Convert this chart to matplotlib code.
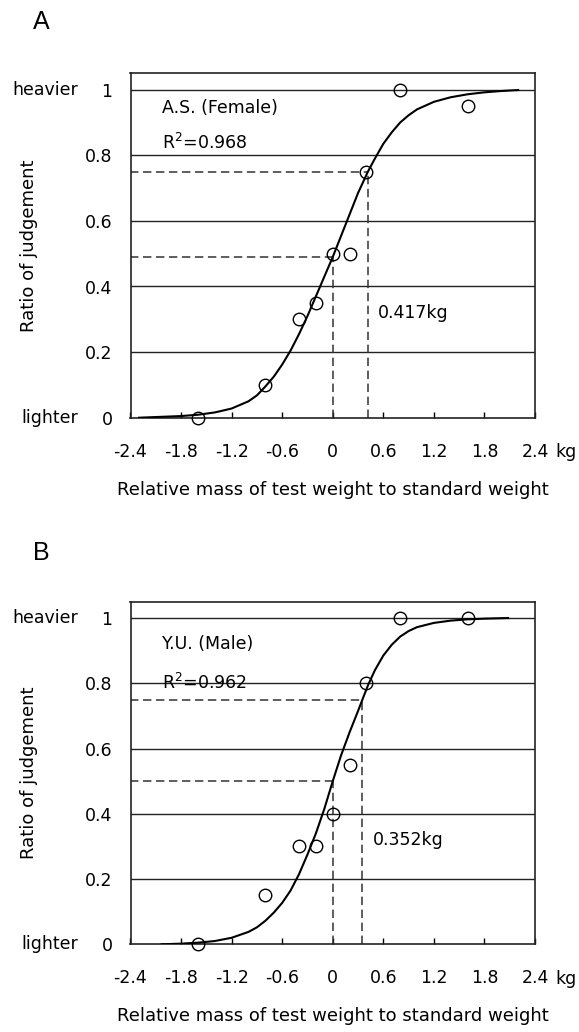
import matplotlib
matplotlib.use("Agg")
import matplotlib.pyplot as plt

# ---------------------------------------------------------------------------
# Data
# ---------------------------------------------------------------------------

# Panel A: A.S. (Female)
A_POINTS_X = [-1.6, -0.8, -0.4, -0.2, 0.0, 0.2, 0.4, 0.8, 1.6]
A_POINTS_Y = [0.0, 0.1, 0.3, 0.35, 0.5, 0.5, 0.75, 1.0, 0.95]
A_CURVE_X = [-2.3, -2.0, -1.8, -1.6, -1.4, -1.2, -1.0, -0.9, -0.8, -0.7,
             -0.6, -0.5, -0.4, -0.3, -0.2, -0.1, 0.0, 0.1, 0.2, 0.3, 0.417,
             0.5, 0.6, 0.7, 0.8, 0.9, 1.0, 1.2, 1.4, 1.6, 1.8, 2.0, 2.2]
A_CURVE_Y = [0.0, 0.003, 0.005, 0.009, 0.016, 0.028, 0.05, 0.068, 0.095,
             0.125, 0.162, 0.205, 0.255, 0.31, 0.37, 0.43, 0.49, 0.555, 0.62,
             0.685, 0.75, 0.79, 0.835, 0.87, 0.90, 0.922, 0.94, 0.963, 0.977,
             0.986, 0.992, 0.996, 0.999]
A_PSE_Y = 0.49
A_JND = 0.417
A_NAME = "A.S. (Female)"
A_R2 = "0.968"

# Panel B: Y.U. (Male)
B_POINTS_X = [-1.6, -0.8, -0.4, -0.2, 0.0, 0.2, 0.4, 0.8, 1.6]
B_POINTS_Y = [0.0, 0.15, 0.3, 0.3, 0.4, 0.55, 0.8, 1.0, 1.0]
B_CURVE_X = [-2.03, -1.8, -1.6, -1.4, -1.2, -1.0, -0.9, -0.8, -0.7, -0.6,
             -0.5, -0.4, -0.3, -0.2, -0.1, 0.0, 0.1, 0.2, 0.3, 0.352, 0.42,
             0.5, 0.6, 0.7, 0.8, 0.9, 1.0, 1.2, 1.4, 1.6, 1.8, 2.08]
B_CURVE_Y = [0.0, 0.002, 0.005, 0.01, 0.02, 0.038, 0.052, 0.072, 0.097,
             0.127, 0.165, 0.215, 0.275, 0.34, 0.415, 0.50, 0.58, 0.65, 0.715,
             0.75, 0.795, 0.84, 0.885, 0.918, 0.943, 0.96, 0.972, 0.985,
             0.992, 0.996, 0.998, 1.0]
B_PSE_Y = 0.5
B_JND = 0.352
B_NAME = "Y.U. (Male)"
B_R2 = "0.962"

X_TICKS = [-2.4, -1.8, -1.2, -0.6, 0, 0.6, 1.2, 1.8, 2.4]
X_TICK_LABELS = ["-2.4", "-1.8", "-1.2", "-0.6", "0", "0.6", "1.2", "1.8", "2.4"]
Y_TICKS = [0, 0.2, 0.4, 0.6, 0.8, 1.0]
Y_TICK_LABELS = ["0", "0.2", "0.4", "0.6", "0.8", "1"]

FONT = "DejaVu Sans"
FS = 12.5
FS_LABEL = 13


def _draw_panel(ax, px, py, cx, cy, pse_y, jnd, name, r2, name_y, r2_y):
    ax.set_xlim(-2.4, 2.4)
    ax.set_ylim(0, 1.05)

    # horizontal reference lines
    for y in Y_TICKS[1:]:
        ax.axhline(y, color="#222222", lw=1.0, zorder=1)

    # dashed guides: PSE and 75% point
    dash = dict(color="#333333", lw=1.1, ls=(0, (5.5, 3)), zorder=2)
    ax.plot([-2.4, 0], [pse_y, pse_y], **dash)
    ax.plot([0, 0], [0, pse_y], **dash)
    ax.plot([-2.4, jnd], [0.75, 0.75], **dash)
    ax.plot([jnd, jnd], [0, 0.75], **dash)

    ax.plot(cx, cy, color="black", lw=1.5, zorder=3)
    ax.plot(px, py, "o", ms=9, mfc="none", mec="black", mew=1.0,
            clip_on=False, zorder=4)

    ax.text(-2.03, name_y, name, fontsize=FS, family=FONT, va="center")
    ax.text(-2.03, r2_y, "R$^{2}$=" + r2, fontsize=FS, family=FONT,
            va="center")
    ax.text(jnd + 0.12, 0.32, f"{jnd}kg", fontsize=FS, family=FONT,
            va="center")

    ax.set_xticks(X_TICKS)
    ax.set_xticklabels(X_TICK_LABELS, fontsize=FS, family=FONT)
    ax.set_yticks(Y_TICKS)
    ax.set_yticklabels(Y_TICK_LABELS, fontsize=FS, family=FONT)
    ax.tick_params(axis="x", direction="in", length=4, width=1.0, pad=18)
    ax.tick_params(axis="y", length=0, pad=13)
    for s in ax.spines.values():
        s.set_linewidth(1.2)
        s.set_color("#222222")

    ax.text(2.64, -0.1, "kg", transform=ax.get_xaxis_transform(),
            fontsize=FS, family=FONT, ha="left", va="center")
    ax.text(-0.13, 1.0, "heavier", transform=ax.get_yaxis_transform(),
            fontsize=FS, family=FONT, ha="right", va="center")
    ax.text(-0.13, 0.0, "lighter", transform=ax.get_yaxis_transform(),
            fontsize=FS, family=FONT, ha="right", va="center")
    ax.text(-0.251, 0.5, "Ratio of judgement", transform=ax.transAxes,
            rotation=90, fontsize=FS_LABEL, family=FONT, ha="center",
            va="center")
    ax.text(0.5, -0.21, "Relative mass of test weight to standard weight",
            transform=ax.transAxes, fontsize=FS_LABEL, family=FONT,
            ha="center", va="center")


fig = plt.figure(figsize=(5.79, 10.32), dpi=100)
W, H = 579.0, 1032.0
left, width = 130.5 / W, (535 - 130.5) / W

ax_a = fig.add_axes([left, 1 - 417.7 / H, width, (417.7 - 73.3) / H])
ax_b = fig.add_axes([left, 1 - 944.3 / H, width, (944.3 - 601.7) / H])

_draw_panel(ax_a, A_POINTS_X, A_POINTS_Y, A_CURVE_X, A_CURVE_Y, A_PSE_Y,
            A_JND, A_NAME, A_R2, 0.945, 0.837)
_draw_panel(ax_b, B_POINTS_X, B_POINTS_Y, B_CURVE_X, B_CURVE_Y, B_PSE_Y,
            B_JND, B_NAME, B_R2, 0.92, 0.80)

fig.text(41 / W, 1 - 22 / H, "A", fontsize=18, family="Liberation Sans",
         ha="center", va="center")
fig.text(41 / W, 1 - 553 / H, "B", fontsize=18, family="Liberation Sans",
         ha="center", va="center")

fig.savefig("out.png", dpi=100)
